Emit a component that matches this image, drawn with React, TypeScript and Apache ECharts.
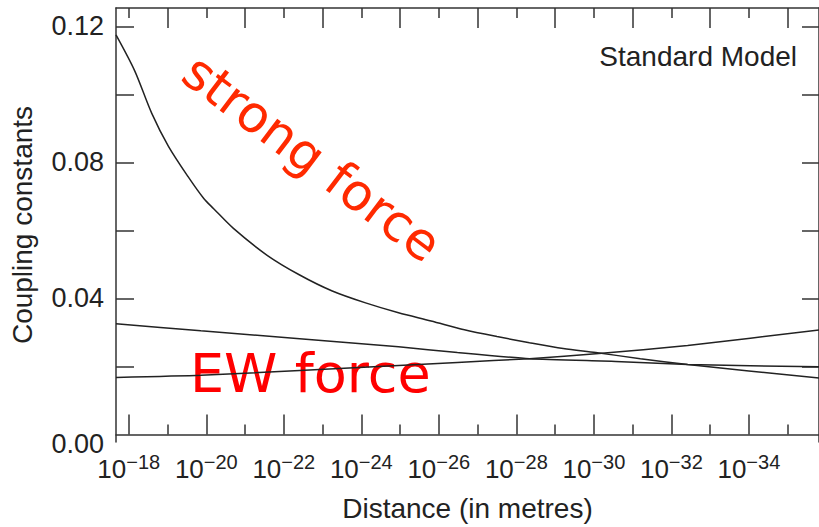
import React, { useEffect, useRef } from "react";
import * as echarts from "echarts";

// x values are the magnitude of the exponent n in 10^-n metres
const majorExponents = [18, 20, 22, 24, 26, 28, 30, 32, 34];
const minorExponents = [19, 21, 23, 25, 27, 29, 31, 33, 35];
const yLabelValues = [0, 0.04, 0.08, 0.12];
const yTickValues = [0.02, 0.04, 0.06, 0.08, 0.1, 0.12];

const strongExp = [17.67, 18.15, 18.59, 19.02, 19.53, 19.94, 20.19, 20.7, 21.57, 22.41, 23.25, 24.11, 24.96, 25.8, 26.66, 27.5, 28.34, 29.21, 30.05, 31.2, 32.42, 34.0, 35.81];
const strongVal = [0.1175, 0.107, 0.0945, 0.0848, 0.0758, 0.0693, 0.0664, 0.0606, 0.0527, 0.0469, 0.0422, 0.0387, 0.0358, 0.0334, 0.0308, 0.0288, 0.027, 0.0253, 0.0241, 0.0223, 0.0206, 0.0187, 0.0166];

const ewUpperExp = [17.67, 19.86, 24.96, 26.48, 28.34, 30.56, 32.42, 35.81];
const ewUpperVal = [0.0326, 0.0305, 0.0258, 0.0241, 0.0223, 0.0215, 0.0206, 0.0199];

const ewLowerExp = [17.67, 19.86, 24.96, 26.48, 28.34, 30.13, 32.42, 35.81];
const ewLowerVal = [0.0168, 0.0174, 0.0203, 0.0212, 0.0223, 0.0238, 0.0262, 0.0307];

const X_MIN = 17.67;
const X_MAX = 35.81;
const Y_MIN = -0.0022;
const Y_MAX = 0.1254;

const FONT = "'Liberation Sans', Arial, Helvetica, sans-serif";
const AXIS_COLOR = "#333";
const TEXT_COLOR = "#222";

const pairs = (xs: number[], ys: number[]) => xs.map((x, i) => [x, ys[i]]);

export default function App() {
  const ref = useRef<HTMLDivElement>(null);
  useEffect(() => {
    if (!ref.current) return;
    const chart = echarts.init(ref.current, undefined, { renderer: "svg" });

    const baseX = {
      type: "value" as const,
      min: X_MIN,
      max: X_MAX,
      splitLine: { show: false },
    };
    const lineStyle = { color: "#222", width: 1.5 };
    const tickLine = { color: AXIS_COLOR, width: 1.5 };

    chart.setOption({
      animation: false,
      backgroundColor: "#fff",
      grid: { left: 114, top: 8, right: -7, bottom: 82, containLabel: false },
      xAxis: [
        {
          ...baseX,
          position: "bottom",
          name: "Distance (in metres)",
          nameLocation: "middle",
          nameGap: 52,
          nameTextStyle: { fontFamily: FONT, fontSize: 28, color: TEXT_COLOR },
          axisLine: { show: true, lineStyle: tickLine },
          axisTick: { show: true, inside: true, length: 20, customValues: majorExponents, lineStyle: tickLine },
          axisLabel: {
            show: true,
            customValues: majorExponents,
            margin: 14,
            formatter: (v: number) => `{b|10}{s|\u2212${Math.round(v)}}`,
            rich: {
              b: { fontFamily: FONT, fontSize: 26, color: TEXT_COLOR, lineHeight: 26 },
              s: { fontFamily: FONT, fontSize: 20, color: TEXT_COLOR, lineHeight: 20, padding: [0, 0, 14, 0] },
            },
          },
        },
        {
          ...baseX,
          position: "bottom",
          axisLine: { show: false },
          axisTick: { show: true, inside: true, length: 10, customValues: minorExponents, lineStyle: tickLine },
          axisLabel: { show: false },
        },
        {
          ...baseX,
          position: "top",
          axisLine: { show: true, lineStyle: tickLine },
          axisTick: { show: true, inside: true, length: 20, customValues: minorExponents, lineStyle: tickLine },
          axisLabel: { show: false },
        },
        {
          ...baseX,
          position: "top",
          axisLine: { show: false },
          axisTick: { show: true, inside: true, length: 10, customValues: majorExponents, lineStyle: tickLine },
          axisLabel: { show: false },
        },
      ],
      yAxis: [
        {
          type: "value",
          position: "left",
          min: Y_MIN,
          max: Y_MAX,
          splitLine: { show: false },
          name: "Coupling constants",
          nameLocation: "middle",
          nameGap: 80,
          nameRotate: 90,
          nameTextStyle: { fontFamily: FONT, fontSize: 28, color: TEXT_COLOR },
          axisLine: { show: true, lineStyle: tickLine },
          axisTick: { show: true, inside: true, length: 18, customValues: yTickValues, lineStyle: tickLine },
          axisLabel: {
            show: true,
            customValues: yLabelValues,
            margin: 12,
            formatter: (v: number) => (Math.abs(v) < 1e-9 ? `{z|${v.toFixed(2)}}` : `{n|${v.toFixed(2)}}`),
            rich: {
              n: { fontFamily: FONT, fontSize: 27, color: TEXT_COLOR },
              z: { fontFamily: FONT, fontSize: 27, color: TEXT_COLOR, padding: [18, 0, 0, 0] },
            },
          },
        },
        {
          type: "value",
          position: "right",
          min: Y_MIN,
          max: Y_MAX,
          splitLine: { show: false },
          axisLine: { show: true, lineStyle: tickLine },
          axisTick: { show: true, inside: true, length: 17, customValues: yTickValues, lineStyle: tickLine },
          axisLabel: { show: false },
        },
      ],
      series: [
        {
          name: "strong",
          type: "line",
          xAxisIndex: 0,
          yAxisIndex: 0,
          data: pairs(strongExp, strongVal),
          showSymbol: false,
          smooth: 0.3,
          lineStyle,
          clip: true,
        },
        {
          name: "EW upper",
          type: "line",
          xAxisIndex: 0,
          yAxisIndex: 0,
          data: pairs(ewUpperExp, ewUpperVal),
          showSymbol: false,
          smooth: 0.2,
          lineStyle,
          clip: true,
        },
        {
          name: "EW lower",
          type: "line",
          xAxisIndex: 0,
          yAxisIndex: 0,
          data: pairs(ewLowerExp, ewLowerVal),
          showSymbol: false,
          smooth: 0.2,
          lineStyle,
          clip: true,
        },
      ],
      graphic: [
        {
          type: "text",
          x: 797,
          y: 56,
          style: {
            text: "Standard Model",
            fontFamily: FONT,
            fontSize: 28,
            fill: TEXT_COLOR,
            align: "right",
            verticalAlign: "middle",
          },
        },
        {
          type: "text",
          x: 312,
          y: 158,
          rotation: (-37 * Math.PI) / 180,
          style: {
            text: "strong force",
            fontFamily: "'DejaVu Sans', sans-serif",
            fontSize: 51,
            fill: "#ff2a00",
            align: "center",
            verticalAlign: "middle",
          },
        },
        {
          type: "text",
          x: 190,
          y: 373,
          style: {
            text: "EW force",
            fontFamily: "'DejaVu Sans', sans-serif",
            fontSize: 54,
            fill: "#ff0000",
            align: "left",
            verticalAlign: "middle",
          },
        },
      ],
    });
    return () => chart.dispose();
  }, []);
  return <div ref={ref} style={{ position: "absolute", left: 0, top: 0, width: 819, height: 527 }} />;
}
